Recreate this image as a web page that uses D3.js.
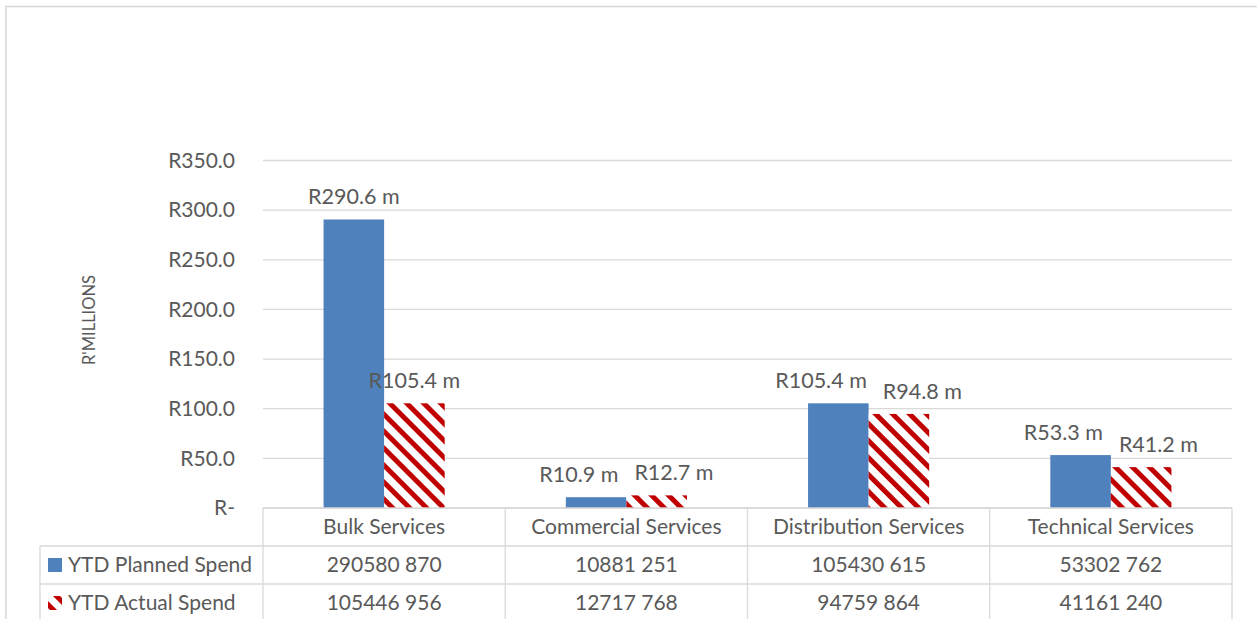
<!DOCTYPE html>
<html>
<head>
<meta charset="utf-8">
<script src="https://cdn.jsdelivr.net/npm/d3@7"></script>
<style>
  html, body { margin: 0; padding: 0; background: #fff; }
  svg { display: block; }
  text { font-family: Lato, "Open Sans", sans-serif; fill: #595959; }
</style>
</head>
<body>
<svg id="chart" width="1257" height="619"></svg>
<script>
const categories = ["Bulk Services", "Commercial Services", "Distribution Services", "Technical Services"];
const seriesNames = ["YTD Planned Spend", "YTD Actual Spend"];
const plannedSpend = [290580870, 10881251, 105430615, 53302762];
const actualSpend = [105446956, 12717768, 94759864, 41161240];
const yTicks = [0, 50, 100, 150, 200, 250, 300, 350];
const yAxisTitle = "R'MILLIONS";

const series = [plannedSpend, actualSpend];
const svg = d3.select("#chart");
const W = 1257, H = 619;
const grid = "#d9d9d9";
const blue = "#4f81bd", red = "#c00000";

// pattern for actual spend
const defs = svg.append("defs");
const pat = defs.append("pattern")
  .attr("id", "stripes")
  .attr("patternUnits", "userSpaceOnUse")
  .attr("width", 12).attr("height", 12)
  .attr("patternTransform", "rotate(-45)");
pat.append("rect").attr("width", 12).attr("height", 12).attr("fill", "#fff");
pat.append("rect").attr("width", 5).attr("height", 12).attr("fill", red);

// outer border
svg.append("rect").attr("x", 6).attr("y", 6.5).attr("width", 1300).attr("height", 700)
  .attr("fill", "none").attr("stroke", grid).attr("stroke-width", 1.6);

const plotLeft = 263, plotRight = 1232;
const x0 = d3.scaleBand().domain(categories).range([plotLeft, plotRight]).padding(0);
const bw = x0.bandwidth();
const x1 = d3.scaleBand().domain(seriesNames).range([bw * 0.25, bw * 0.75]).padding(0);
const y = d3.scaleLinear().domain([0, 350]).range([508, 160.5]);

// gridlines
svg.append("g").selectAll("line").data(yTicks).join("line")
  .attr("x1", plotLeft).attr("x2", plotRight)
  .attr("y1", d => y(d)).attr("y2", d => y(d))
  .attr("stroke", grid).attr("stroke-width", 1.3);

// y axis labels
const yAxis = d3.axisLeft(y).tickValues(yTicks)
  .tickFormat(d => d === 0 ? "R-" : "R" + d.toFixed(1)).tickSize(0).tickPadding(0);
const gy = svg.append("g").attr("transform", "translate(235,0)").call(yAxis);
gy.select(".domain").remove();
gy.selectAll("text").attr("font-size", 21).style("font-family", "Lato, sans-serif").attr("fill", "#595959");

// axis title
svg.append("text").attr("transform", "translate(95,320) rotate(-90)")
  .attr("text-anchor", "middle").attr("font-size", 16.5).text(yAxisTitle);

// bars
const fills = [blue, "url(#stripes)"];
const labelSel = [];
series.forEach((vals, si) => {
  const g = svg.append("g");
  g.selectAll("rect").data(vals).join("rect")
    .attr("x", (d, i) => x0(categories[i]) + x1(seriesNames[si]))
    .attr("width", x1.bandwidth())
    .attr("y", d => y(d / 1e6))
    .attr("height", d => y(0) - y(d / 1e6))
    .attr("fill", fills[si]);
  labelSel.push(g.selectAll("text").data(vals).join("text")
    .attr("x", (d, i) => x0(categories[i]) + x1(seriesNames[si]) + x1.bandwidth() / 2)
    .attr("y", d => y(d / 1e6) - 15)
    .attr("text-anchor", "middle").attr("font-size", 21.5)
    .text(d => "R" + (d / 1e6).toFixed(1) + " m"));
});

// spread apart labels that would collide
const gap = 16;
categories.forEach((c, i) => {
  const a = labelSel[0].nodes()[i], b = labelSel[1].nodes()[i];
  const ya = +a.getAttribute("y"), yb = +b.getAttribute("y");
  const wa = a.getComputedTextLength(), wb = b.getComputedTextLength();
  const xa = +a.getAttribute("x"), xb = +b.getAttribute("x");
  const vOverlap = Math.abs(ya - yb) < 24;
  const hOverlap = (xa + wa / 2 + gap) > (xb - wb / 2);
  if (vOverlap && hOverlap) {
    const mid = x0(c) + bw / 2;
    const total = wa + gap + wb;
    const left = mid - total / 2;
    a.setAttribute("x", left + wa / 2);
    b.setAttribute("x", left + wa + gap + wb / 2);
  }
});

// data table
const fmt = v => Math.floor(v / 1000) + " " + String(v % 1000).padStart(3, "0");
const tableTop = 508, rowH = 38, tableLeft = 40;
const lines = svg.append("g").attr("stroke", grid).attr("stroke-width", 1.3);
lines.append("line").attr("x1", plotLeft).attr("x2", plotRight).attr("y1", tableTop).attr("y2", tableTop);
[1, 2, 3].forEach(r => {
  lines.append("line").attr("x1", tableLeft).attr("x2", plotRight)
    .attr("y1", tableTop + r * rowH).attr("y2", tableTop + r * rowH);
});
categories.forEach(c => {
  lines.append("line").attr("x1", x0(c)).attr("x2", x0(c)).attr("y1", tableTop).attr("y2", H + 10);
});
lines.append("line").attr("x1", plotRight).attr("x2", plotRight).attr("y1", tableTop).attr("y2", H + 10);
lines.append("line").attr("x1", tableLeft).attr("x2", tableLeft).attr("y1", tableTop + rowH).attr("y2", H + 10);

// category header
svg.append("g").selectAll("text").data(categories).join("text")
  .attr("x", d => x0(d) + bw / 2).attr("y", tableTop + rowH / 2)
  .attr("dy", "0.35em").attr("text-anchor", "middle").attr("font-size", 21).text(d => d);

// rows
series.forEach((vals, si) => {
  const cy = tableTop + rowH * (si + 1) + rowH / 2;
  svg.append("rect").attr("x", 48).attr("y", cy - 7).attr("width", 14).attr("height", 14)
    .attr("fill", fills[si]);
  svg.append("text").attr("x", 68).attr("y", cy).attr("dy", "0.35em")
    .attr("font-size", 21).text(seriesNames[si]);
  svg.append("g").selectAll("text").data(vals).join("text")
    .attr("x", (d, i) => x0(categories[i]) + bw / 2).attr("y", cy).attr("dy", "0.35em")
    .attr("text-anchor", "middle").attr("font-size", 21).text(d => fmt(d));
});
</script>
</body>
</html>
